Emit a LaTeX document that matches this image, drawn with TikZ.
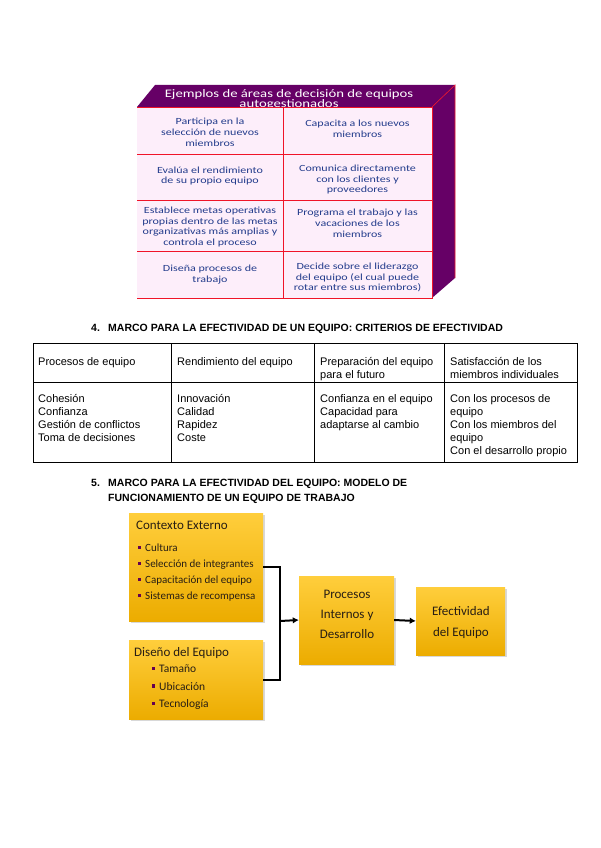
\documentclass[tikz,border=0pt]{standalone}
\usepackage{fontspec}
\setmainfont{Liberation Sans}
\newfontfamily\calf{Carlito}
\newfontfamily\calw[FakeStretch=1.28]{Carlito}
\usetikzlibrary{arrows.meta,shadows}
\definecolor{tpurple}{RGB}{102,0,102}
\definecolor{tpink}{RGB}{253,238,250}
\definecolor{tred}{RGB}{240,20,40}
\definecolor{tblue}{RGB}{35,60,140}
\definecolor{ytop}{RGB}{255,206,60}
\definecolor{ybot}{RGB}{236,172,0}
\definecolor{bulletc}{RGB}{100,0,80}
\definecolor{boxtext}{RGB}{40,30,20}
\begin{document}
\begin{tikzpicture}[x=1pt,y=-1pt,
  t1head/.style={font=\calw\fontsize{11.5}{13}\selectfont, text=white, anchor=base, inner sep=0},
  cell/.style={font=\calw\fontsize{9.4}{10.8}\selectfont, text=tblue, align=center, inner sep=0},
  hdr/.style={font=\fontsize{10.5}{12}\bfseries\selectfont, anchor=base west, inner sep=0},
  tline/.style={font=\fontsize{11}{13}\selectfont, anchor=base west, inner sep=0},
  ybox/.style={draw=none, top color=ytop, bottom color=ybot, inner sep=0,
    drop shadow={shadow xshift=1.5pt, shadow yshift=-1.5pt, opacity=0.3}},
  btitle/.style={font=\calf\fontsize{13}{15}\selectfont, text=boxtext, anchor=base west, inner sep=0},
  bitem/.style={font=\calf\fontsize{11}{13}\selectfont, text=boxtext, anchor=base west, inner sep=0},
  bcenter/.style={font=\calf\fontsize{13}{15}\selectfont, text=boxtext, anchor=base, inner sep=0},
  conn/.style={line width=2pt, black},
  arr/.style={conn, -{Latex[length=6pt,width=6.5pt]}}
]
\useasboundingbox (0,0) rectangle (600,848);
\fill[white] (0,0) rectangle (600,848);

% ---------- Table 1 (3D box) ----------
\fill[tpurple] (137,107) -- (155,85) -- (455,85) -- (432,107) -- cycle;
\fill[tpurple] (432,107) -- (455,85) -- (455,278) -- (432,298) -- cycle;
\node[t1head] (t1h1) at (289,97.5) {Ejemplos de áreas de decisión de equipos};
\node[t1head] (t1h2) at (289,107.5) {autogestionados};
\fill[tpink] (137,107) rectangle (432,298);
\draw[tred, line width=0.9pt] (137,107) -- (432,107) -- (432,298) -- (137,298)
  (137,154) -- (432,154) (137,200) -- (432,200) (137,251) -- (432,251)
  (283,107) -- (283,298);
\draw[tred, line width=0.6pt] (432,107) -- (455,85) -- (455,278);

\node[cell] (r1a) at (210,132.5) {Participa en la\\selección de nuevos\\miembros};
\node[cell] (r1b) at (357.5,129) {Capacita a los nuevos\\miembros};
\node[cell] (r2a) at (210,176) {Evalúa el rendimiento\\de su propio equipo};
\node[cell] (r2b) at (357.5,179.5) {Comunica directamente\\con los clientes y\\proveedores};
\node[cell] (r3a) at (210,227) {Establece metas operativas\\propias dentro de las metas\\organizativas más amplias y\\controla el proceso};
\node[cell] (r3b) at (357.5,223.5) {Programa el trabajo y las\\vacaciones de los\\miembros};
\node[cell] (r4a) at (210,274.5) {Diseña procesos de\\trabajo};
\node[cell] (r4b) at (357.5,277.5) {Decide sobre el liderazgo\\del equipo (el cual puede\\rotar entre sus miembros)};

% ---------- Section 4 ----------
\node[hdr] (s4n) at (91,331) {4.};
\node[hdr] (s4t) at (108,331) {MARCO PARA LA EFECTIVIDAD DE UN EQUIPO: CRITERIOS DE EFECTIVIDAD};

\draw[black, line width=0.8pt] (33,343) rectangle (577,462);
\draw[black, line width=0.8pt] (33,382) -- (577,382)
  (171,343) -- (171,462) (314,343) -- (314,462) (444,343) -- (444,462);

\node[tline] (h1) at (38,365) {Procesos de equipo};
\node[tline] (h2) at (177,365) {Rendimiento del equipo};
\node[tline] (h3a) at (320,365) {Preparación del equipo};
\node[tline] (h3b) at (320,378) {para el futuro};
\node[tline] (h4a) at (450,365) {Satisfacción de los};
\node[tline] (h4b) at (450,378) {miembros individuales};

\foreach \t [count=\i] in {Cohesión, Confianza, Gestión de conflictos, Toma de decisiones}
  \node[tline] (ca\i) at (38,{402+13*(\i-1)}) {\t};
\foreach \t [count=\i] in {Innovación, Calidad, Rapidez, Coste}
  \node[tline] (cb\i) at (177,{402+13*(\i-1)}) {\t};
\foreach \t [count=\i] in {Confianza en el equipo, Capacidad para, adaptarse al cambio}
  \node[tline] (cc\i) at (320,{402+13*(\i-1)}) {\t};
\foreach \t [count=\i] in {Con los procesos de, equipo, Con los miembros del, equipo, Con el desarrollo propio}
  \node[tline] (cd\i) at (450,{402+13*(\i-1)}) {\t};

% ---------- Section 5 ----------
\node[hdr] (s5n) at (91,486) {5.};
\node[hdr] (s5a) at (108,486) {MARCO PARA LA EFECTIVIDAD DEL EQUIPO: MODELO DE};
\node[hdr] (s5b) at (108,501) {FUNCIONAMIENTO DE UN EQUIPO DE TRABAJO};

% boxes
\node[ybox, minimum width=134pt, minimum height=108pt] (box1) at (196,567) {};
\node[ybox, minimum width=134pt, minimum height=79pt] (box2) at (196,679.5) {};
\node[ybox, minimum width=95pt, minimum height=88pt] (box3) at (346.5,620) {};
\node[ybox, minimum width=89pt, minimum height=68pt] (box4) at (460.5,621) {};

\node[btitle] (b1t) at (136,529) {Contexto Externo};
\foreach \t [count=\i] in {Cultura, Selección de integrantes, Capacitación del equipo, Sistemas de recompensa}{
  \fill[bulletc] ({139.5-1.6},{547.5+16*(\i-1)-1.6}) rectangle ++(3.2,3.2);
  \node[bitem] (b1i\i) at (145,{551.5+16*(\i-1)}) {\t};
}
\node[btitle] (b2t) at (134,656) {Diseño del Equipo};
\foreach \t [count=\i] in {Tamaño, Ubicación, Tecnología}{
  \fill[bulletc] ({153.5-1.6},{668.5+17.5*(\i-1)-1.6}) rectangle ++(3.2,3.2);
  \node[bitem,font=\calf\fontsize{11.5}{13}\selectfont] (b2i\i) at (159,{672.5+17.5*(\i-1)}) {\t};
}
\node[bcenter] (b3a) at (347,598.5) {Procesos};
\node[bcenter] (b3b) at (347,618.5) {Internos y};
\node[bcenter] (b3c) at (347,638) {Desarrollo};
\node[bcenter] (b4a) at (461,615.5) {Efectividad};
\node[bcenter] (b4b) at (461,636) {del Equipo};

% connectors
\coordinate (j) at (280,621);
\draw[conn] (box1.east) -| (j) |- (box2.east);
\draw[arr] (j) -- (box3.west);
\draw[arr] (box3.east) -- (box4.west);
\end{tikzpicture}
\end{document}
